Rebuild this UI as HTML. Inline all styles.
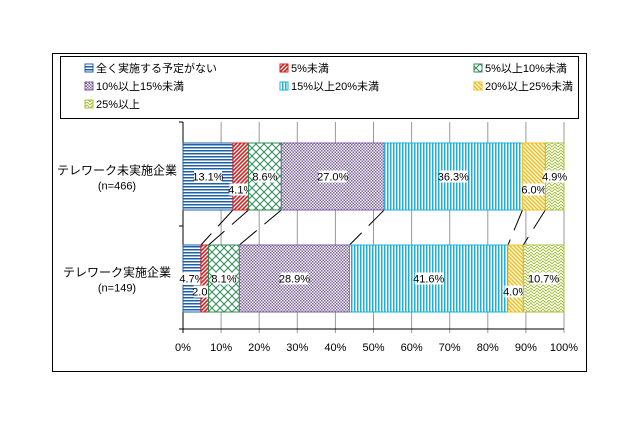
<!DOCTYPE html>
<html><head><meta charset="utf-8"><style>
body{margin:0;background:#fff;width:640px;height:426px;overflow:hidden}
svg{display:block;font-family:"Liberation Sans","Noto Sans CJK JP",sans-serif}
</style></head><body>
<svg id="c" width="640" height="426" xmlns="http://www.w3.org/2000/svg">
<defs>
<pattern id="p0" width="4" height="3" patternUnits="userSpaceOnUse"><rect width="4" height="3" fill="#fff"/><rect width="4" height="1.5" fill="#1f5fa8"/></pattern>
<pattern id="p1" width="4" height="4" patternUnits="userSpaceOnUse"><rect width="4" height="4" fill="#fff"/><path d="M-1,5 L5,-1 M-1,1 L1,-1 M3,5 L5,3" stroke="#d42020" stroke-width="1.6"/></pattern>
<pattern id="p2" width="8" height="8" patternUnits="userSpaceOnUse"><rect width="8" height="8" fill="#fff"/><path d="M0,0 L8,8 M8,0 L0,8" stroke="#2e8b57" stroke-width="1"/></pattern>
<pattern id="p3" width="3" height="3" patternUnits="userSpaceOnUse"><rect width="3" height="3" fill="#fff"/><rect width="1.5" height="1.5" fill="#7a5fa0"/><rect x="1.5" y="1.5" width="1.5" height="1.5" fill="#7a5fa0"/></pattern>
<pattern id="p4" width="3" height="4" patternUnits="userSpaceOnUse"><rect width="3" height="4" fill="#fff"/><rect width="1.5" height="4" fill="#1ab0d8"/></pattern>
<pattern id="p5" width="4" height="4" patternUnits="userSpaceOnUse"><rect width="4" height="4" fill="#fff"/><path d="M-1,-1 L5,5 M-1,3 L1,5 M3,-1 L5,1" stroke="#f0c020" stroke-width="1.6"/></pattern>
<pattern id="p6" width="6" height="6" patternUnits="userSpaceOnUse"><rect width="6" height="6" fill="#fff"/><path d="M0,3 L3,0 L6,3 M0,6 L3,3 L6,6" stroke="#a8c040" stroke-width="1" fill="none"/></pattern>
</defs>
<rect x="52.5" y="53.5" width="534" height="318" fill="none" stroke="#000"/>
<rect x="60.5" y="56.5" width="518" height="62" fill="#fff" stroke="#000"/>
<g id="legend"></g>
<g id="grid"></g>
<g id="bars"></g>
</svg>
<script>
const categories=["テレワーク未実施企業","テレワーク実施企業"];
const counts=["(n=466)","(n=149)"];
const seriesNames=["全く実施する予定がない","5%未満","5%以上10%未満","10%以上15%未満","15%以上20%未満","20%以上25%未満","25%以上"];
const series1=[13.1,4.1,8.6,27.0,36.3,6.0,4.9];
const series2=[4.7,2.0,8.1,28.9,41.6,4.0,10.7];
const tickLabels=["0%","10%","20%","30%","40%","50%","60%","70%","80%","90%","100%"];
const strokes=["#1f5fa8","#d42020","#2e8b57","#7a5fa0","#1ab0d8","#f0c020","#a8c040"];
const NS="http://www.w3.org/2000/svg";
const X0=183,X1=564,YT=122,YB=329;
const xs=v=>X0+(X1-X0)*v/100;
const bandY=[143,245],BH=67;
function mk(t,a,p){const e=document.createElementNS(NS,t);for(const k in a)e.setAttribute(k,a[k]);if(p)p.appendChild(e);return e;}
const lg=document.getElementById('legend'),gg=document.getElementById('grid'),bg=document.getElementById('bars');
const lx=[85,280,474];
seriesNames.forEach((n,i)=>{const x=lx[i%3],y=64+(i/3|0)*18;
const r=mk('rect',{x:x,y:y,width:8,height:8,fill:'url(#p'+i+')',stroke:strokes[i]},lg);


const t=mk('text',{x:x+11,y:y+8,'font-size':11},lg);t.textContent=n;

});
tickLabels.forEach((l,i)=>{const x=xs(i*10);
const g=mk('line',{x1:x,x2:x,y1:YT,y2:YB+4,stroke:i==0?'#000':'#999'},gg);


const t=mk('text',{x:x,y:351,'font-size':11,'text-anchor':'middle'},gg);t.textContent=l;

});
const ax=mk('line',{x1:X0,x2:X1,y1:YB,y2:YB,stroke:'#000'},gg);


[YT,226,YB].forEach(y=>{const l=mk('line',{x1:X0-4,x2:X0,y1:y,y2:y,stroke:'#000'},gg);

});
const data=[series1,series2];
let c1=0,c2=0;
for(let i=0;i<6;i++){c1+=series1[i];c2+=series2[i];
const l=mk('line',{x1:xs(c1),y1:bandY[0]+BH,x2:xs(c2),y2:bandY[1],stroke:'#000','stroke-width':1,'stroke-dasharray':'22,10'},bg);

}
data.forEach((vals,b)=>{let c=0;const y=bandY[b];
vals.forEach((v,i)=>{const x=xs(c),w=xs(c+v)-x;
const r=mk('rect',{x:x,y:y,width:w,height:BH,fill:'url(#p'+i+')',stroke:strokes[i],'stroke-width':1},bg);


const low=(v<7&&i>0&&i<vals.length-1);
const ty=y+BH/2+4+(low?13:0);
const s=v.toFixed(1)+'%';
const tw=s.length*5.6;
const bgR=mk('rect',{x:x+w/2-tw/2,y:ty-10,width:tw,height:12,fill:'#fff'},bg);


const t=mk('text',{x:x+w/2,y:ty,'font-size':11,'text-anchor':'middle'},bg);t.textContent=s;


c+=v;});
const t=mk('text',{x:117,y:y+BH/2-2,'font-size':12,'text-anchor':'middle'},bg);t.textContent=categories[b];


const t2=mk('text',{x:117,y:y+BH/2+13,'font-size':11,'text-anchor':'middle'},bg);t2.textContent=counts[b];

});
</script>
</body></html>
